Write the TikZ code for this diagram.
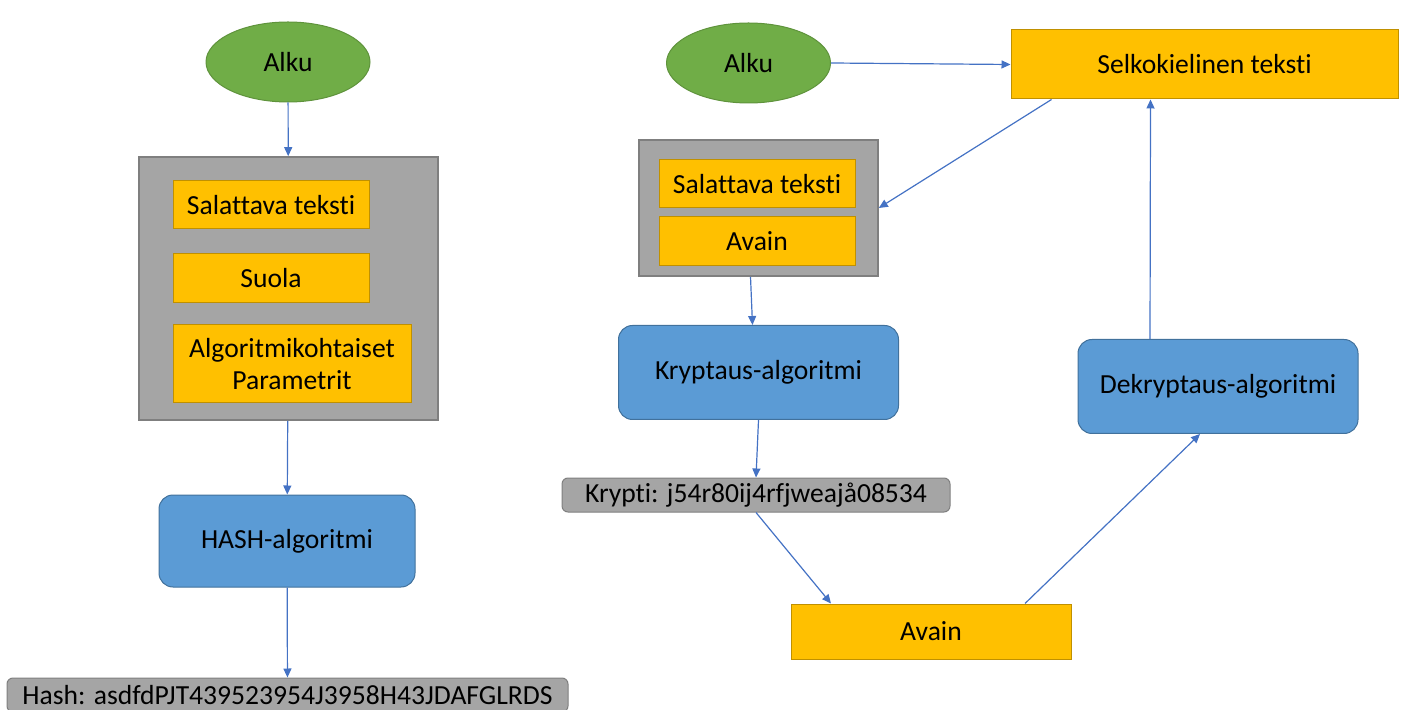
\documentclass[tikz,border=0pt]{standalone}
\usepackage{fontspec}
\setmainfont{Carlito}[Ligatures=NoCommon]
\usetikzlibrary{arrows.meta,shapes.geometric}

\definecolor{startgreen}{HTML}{70AD47}
\definecolor{inputgold}{HTML}{FFC000}
\definecolor{goldline}{HTML}{C09000}
\definecolor{boxgray}{HTML}{A5A5A5}
\definecolor{grayline}{HTML}{7F7F7F}
\definecolor{algoblue}{HTML}{5B9BD5}
\definecolor{blueline}{HTML}{41719C}
\definecolor{arrowblue}{HTML}{4472C4}

\tikzset{
  startnode/.style={ellipse, fill=startgreen, draw=startgreen!85!black, line width=0.5pt,
    minimum width=82pt, minimum height=40pt, inner sep=0pt},
  inputbox/.style={rectangle, fill=inputgold, draw=goldline, line width=0.5pt,
    inner sep=0pt, align=center},
  groupbox/.style={rectangle, fill=boxgray, draw=grayline, line width=0.8pt, inner sep=0pt},
  algobox/.style={rectangle, rounded corners=7pt, fill=algoblue, draw=blueline, line width=0.5pt,
    minimum width=140pt, minimum height=47pt, inner sep=0pt},
  resultbox/.style={rectangle, rounded corners=3pt, fill=boxgray, draw=grayline, line width=0.5pt,
    inner sep=0pt},
  flow/.style={draw=arrowblue, line width=0.6pt, -{Triangle[length=4.5pt,width=4pt]}},
}

\begin{document}
\begin{tikzpicture}[x=0.5pt, y=-0.5pt, font=\fontsize{13.8}{16}\selectfont]
  \useasboundingbox (0,0) rectangle (1406,710);

  % hash side
  \node[startnode] (alku1) at (288,62) {Alku};
  \node[groupbox, minimum width=149.5pt, minimum height=131.5pt] (hashin) at (288.5,288.5) {};
  \node[inputbox, minimum width=98pt, minimum height=24pt] (salt1) at (271,205) {Salattava teksti};
  \node[inputbox, minimum width=98pt, minimum height=24.5pt] (suola) at (271,278.5) {Suola};
  \node[inputbox, minimum width=119pt, minimum height=39pt] (param) at (292,364) {Algoritmikohtaiset\\Parametrit};
  \node[algobox, minimum width=128pt, minimum height=46pt] (hashalg) at (287,541) {HASH-algoritmi};
  \node[resultbox, minimum width=280.5pt, minimum height=17pt] (hash) at (287.5,695) {Hash: asdfdPJT439523954J3958H43JDAFGLRDS};

  % crypto side
  \node[startnode] (alku2) at (748.5,63) {Alku};
  \node[inputbox, minimum width=193.5pt, minimum height=34.5pt] (selko) at (1204.5,64.5) {Selkokielinen teksti};
  \node[groupbox, minimum width=119.5pt, minimum height=68pt] (cryptin) at (758.5,208) {};
  \node[inputbox, minimum width=98pt, minimum height=24pt] (salt2) at (757,184) {Salattava teksti};
  \node[inputbox, minimum width=98pt, minimum height=24.5pt] (avain1) at (757,241.5) {Avain};
  \node[algobox] (krypt) at (758.5,372.5) {Kryptaus-algoritmi};
  \node[resultbox, minimum width=194pt, minimum height=17pt] (krypti) at (756,495) {Krypti: j54r80ij4rfjweajå08534};
  \node[inputbox, minimum width=140pt, minimum height=27.5pt] (avain2) at (931,631.5) {Avain};
  \node[algobox] (dekrypt) at (1218,386.5) {Dekryptaus-algoritmi};

  % arrows
  \draw[flow] (alku1) -- (hashin);
  \draw[flow] (hashin) -- (hashalg);
  \draw[flow] (hashalg) -- (hash);
  \draw[flow] (alku2.east) -- (selko.west);
  \draw[flow] (selko.south west) ++(41,0) -- (cryptin.east);
  \draw[flow] (cryptin.south) ++(-8,0) -- ([xshift=-3pt]krypt.north);
  \draw[flow] (krypt.south) -- (krypti.north);
  \draw[flow] (krypti.south) -- ([xshift=-50pt]avain2.north);
  \draw[flow] ([xshift=47pt]avain2.north) -- ([xshift=-9pt]dekrypt.south);
  \draw[flow] ([xshift=-34pt]dekrypt.north) -- ([xshift=-27pt]selko.south);
\end{tikzpicture}
\end{document}
